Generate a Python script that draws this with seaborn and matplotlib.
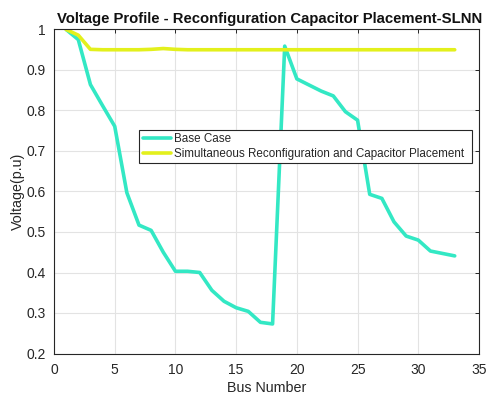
import numpy as np
import pandas as pd
import seaborn as sns
import matplotlib
matplotlib.use("Agg")
import matplotlib.pyplot as plt

bus = list(range(1, 34))
base_case = [1.0, 0.975, 0.864, 0.812, 0.761, 0.597, 0.517, 0.504, 0.450, 0.403,
             0.403, 0.400, 0.356, 0.329, 0.313, 0.304, 0.277, 0.273, 0.959, 0.878,
             0.863, 0.848, 0.836, 0.797, 0.776, 0.593, 0.583, 0.525, 0.490, 0.480,
             0.453, 0.447, 0.441]
reconfig_cap = [1.0, 0.986, 0.951, 0.950, 0.950, 0.950, 0.950, 0.951, 0.953, 0.951,
                0.950, 0.950, 0.950, 0.950, 0.950, 0.950, 0.950, 0.950, 0.950, 0.950,
                0.950, 0.950, 0.950, 0.950, 0.950, 0.950, 0.950, 0.950, 0.950, 0.950,
                0.950, 0.950, 0.950]
series_names = ["Base Case", "Simultaneous Reconfiguration and Capacitor Placement"]
x_ticks = [0, 5, 10, 15, 20, 25, 30, 35]
y_ticks = [0.2, 0.3, 0.4, 0.5, 0.6, 0.7, 0.8, 0.9, 1.0]
y_ticklabels = ["0.2", "0.3", "0.4", "0.5", "0.6", "0.7", "0.8", "0.9", "1"]

df = pd.DataFrame({
    "Bus": bus * 2,
    "Voltage": base_case + reconfig_cap,
    "Series": [series_names[0]] * len(bus) + [series_names[1]] * len(bus),
})

sns.set_style("white")
plt.rcParams["font.family"] = ["Liberation Sans", "DejaVu Sans"]

fig = plt.figure(figsize=(4.86, 3.96), dpi=100)
ax = fig.add_axes([54 / 486, 1 - 353.5 / 396, 425 / 486, 324 / 396])

palette = {series_names[0]: "#33E8C4", series_names[1]: "#E3F01C"}
sns.lineplot(data=df, x="Bus", y="Voltage", hue="Series", palette=palette,
             linewidth=2.6, ax=ax, legend=True)

ax.set_xlim(0, 35)
ax.set_ylim(0.2, 1.0)
ax.set_xticks(x_ticks)
ax.set_yticks(y_ticks)
ax.set_yticklabels(y_ticklabels)
ax.grid(True, color="#e3e3e3", linewidth=0.8)
ax.set_axisbelow(True)
for s in ax.spines.values():
    s.set_visible(True)
    s.set_color("#262626")
    s.set_linewidth(0.8)
ax.tick_params(direction="in", length=3, width=0.7, colors="#262626",
               labelsize=10, top=True, right=True, labelcolor="#262626")
ax.tick_params(axis="x", pad=7)
ax.tick_params(axis="y", pad=6)
ax.set_xlabel("Bus Number", fontsize=10.3, color="#262626", labelpad=3)
ax.set_ylabel("Voltage(p.u)", fontsize=10.3, color="#262626", labelpad=1)
ax.set_title("Voltage Profile - Reconfiguration Capacitor Placement-SLNN",
             fontsize=10.7, fontweight="bold", color="#111111", pad=5, x=0.507)

handles, labels = ax.get_legend_handles_labels()
leg = ax.legend(handles, labels, loc="upper left",
                bbox_to_anchor=(0.2007, 0.590, 0.7833, 0.1), mode="expand",
                fontsize=8.4, frameon=True, fancybox=False, framealpha=1,
                edgecolor="#262626", borderpad=0.3, labelspacing=0.2,
                handlelength=2.4, handletextpad=0.3, borderaxespad=0)
leg.get_frame().set_linewidth(0.8)

fig.savefig("out.png", dpi=100)
